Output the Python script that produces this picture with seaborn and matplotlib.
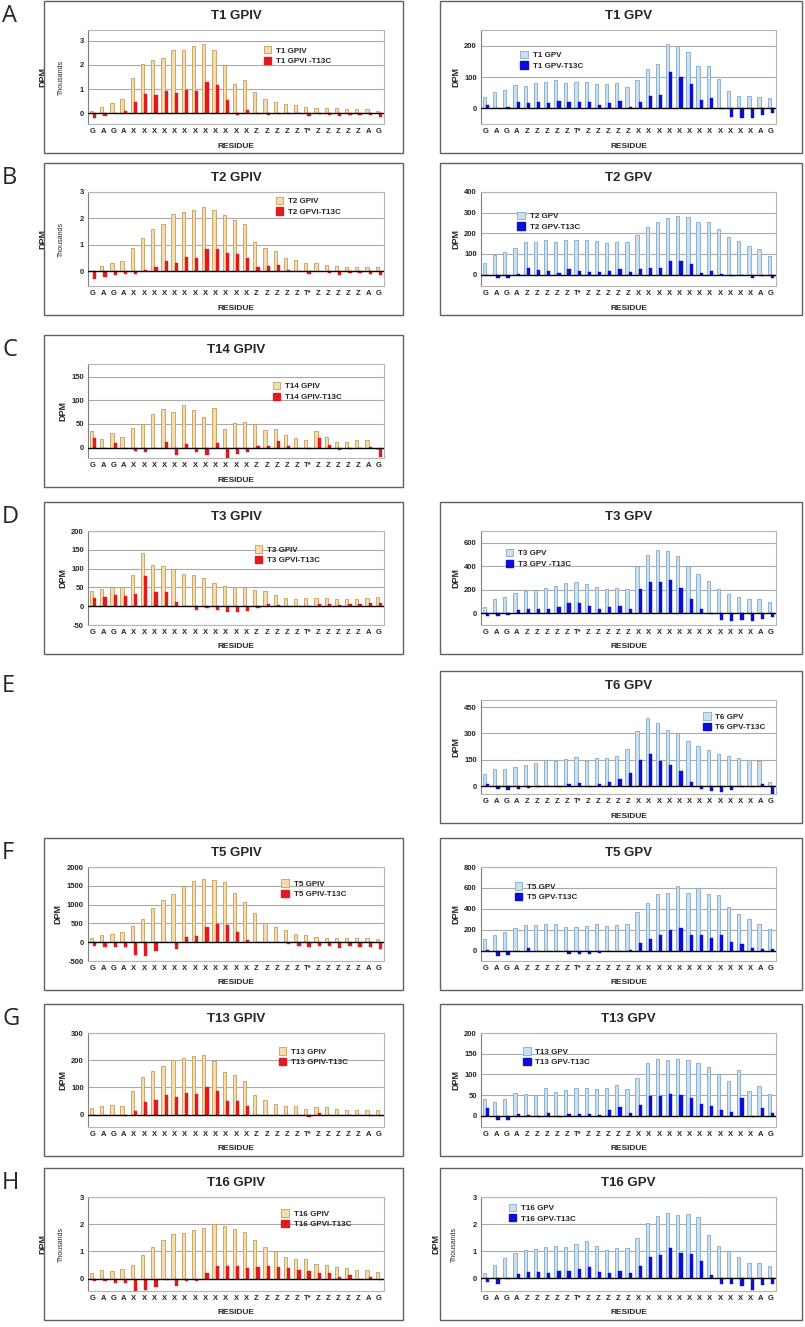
import matplotlib
matplotlib.use('Agg')
import matplotlib.pyplot as plt
from matplotlib.patches import Patch, Rectangle
import pandas as pd
import seaborn as sns

# Residuos del eje x (29 posiciones)
gpiv_residues = ['G', 'A', 'G', 'A'] + ['X'] * 12 + ['Z'] * 5 + ['T*'] + ['Z'] * 5 + ['A', 'G']
gpv_residues = ['G', 'A', 'G', 'A'] + ['Z'] * 5 + ['T*'] + ['Z'] * 5 + ['X'] * 12 + ['A', 'G']

# A - T1 (GPIV en miles)
t1_gpiv = [0.1, 0.27, 0.43, 0.58, 1.45, 2.03, 2.2, 2.28, 2.62, 2.62, 2.77, 2.87, 2.6, 1.99, 1.2,
           1.37, 0.88, 0.58, 0.47, 0.38, 0.35, 0.27, 0.22, 0.22, 0.22, 0.18, 0.17, 0.17, 0.1]
t1_gpiv_t13c = [-0.2, -0.12, 0.0, 0.08, 0.48, 0.8, 0.77, 0.9, 0.82, 0.96, 0.93, 1.28, 1.15, 0.55, -0.07,
                0.12, -0.05, -0.07, -0.05, -0.03, 0.0, -0.1, -0.05, -0.07, -0.1, -0.07, -0.07, -0.07, -0.15]
t1_gpv = [35, 52, 58, 73, 72, 80, 84, 90, 82, 85, 85, 78, 78, 80, 68, 92, 127, 140, 204, 200,
          180, 135, 135, 95, 55, 40, 40, 35, 32]
t1_gpv_t13c = [10, 1, 5, 20, 18, 20, 18, 24, 20, 20, 20, 12, 18, 22, 5, 20, 40, 42, 115, 100,
               78, 25, 32, -2, -28, -32, -30, -22, -15]

# B - T2
t2_gpiv = [0.03, 0.2, 0.3, 0.38, 0.87, 1.27, 1.6, 1.8, 2.17, 2.23, 2.32, 2.42, 2.32, 2.13, 1.95,
           1.78, 1.12, 0.9, 0.78, 0.52, 0.42, 0.32, 0.3, 0.25, 0.2, 0.17, 0.17, 0.15, 0.15]
t2_gpiv_t13c = [-0.27, -0.2, -0.13, -0.1, -0.1, 0.07, 0.15, 0.4, 0.33, 0.55, 0.5, 0.83, 0.83, 0.7, 0.65,
                0.52, 0.15, 0.2, 0.25, 0.07, 0.0, -0.08, 0.0, -0.05, -0.12, -0.05, -0.07, -0.1, -0.15]
t2_gpv = [55, 95, 108, 128, 157, 160, 168, 160, 168, 168, 166, 165, 153, 157, 157, 190, 230, 253,
          272, 285, 280, 257, 253, 220, 182, 162, 140, 123, 90]
t2_gpv_t13c = [0, -15, -15, 5, 32, 23, 20, 10, 25, 20, 13, 13, 17, 25, 13, 25, 32, 32, 65, 65,
               52, 8, 20, 5, -5, 0, -15, -5, -18]

# C - T14
t14_gpiv = [35, 18, 31, 22, 41, 51, 71, 81, 76, 91, 80, 65, 83, 39, 52, 54, 51, 37, 39, 26, 20,
            17, 35, 22, 12, 11, 16, 16, -2]
t14_gpiv_t13c = [20, -1, 10, -2, -7, -10, 0, 12, -15, 8, -10, -15, 9, -25, -13, -10, 4, 3, 13, 4,
                 0, -2, 20, 6, -5, -3, 0, 2, -20]

# D - T3
t3_gpiv = [40, 45, 52, 52, 82, 142, 110, 106, 99, 85, 82, 75, 62, 55, 50, 50, 43, 40, 30, 22,
           20, 21, 22, 22, 20, 18, 20, 22, 25]
t3_gpiv_t13c = [22, 24, 30, 27, 33, 80, 38, 37, 10, 0, -9, -5, -11, -16, -15, -13, -5, 5, 3, 0,
                0, 0, 7, 7, 4, 5, 7, 9, 9]
t3_gpv = [50, 120, 138, 173, 188, 200, 212, 232, 258, 268, 250, 220, 210, 215, 210, 405, 500, 540,
          530, 485, 400, 330, 275, 205, 165, 140, 122, 120, 95]
t3_gpv_t13c = [-20, -20, -12, 28, 32, 38, 32, 55, 85, 85, 65, 38, 50, 60, 38, 210, 265, 270, 285,
               218, 122, 35, -5, -55, -70, -60, -70, -45, -30]

# E - T6
t6_gpv = [70, 95, 100, 108, 118, 130, 150, 140, 155, 163, 145, 162, 158, 170, 210, 312, 385, 360,
          322, 305, 255, 230, 205, 180, 170, 158, 150, 145, 22]
t6_gpv_t13c = [10, -18, -20, -15, -12, -3, 2, -5, 10, 18, -5, 10, 25, 40, 72, 150, 185, 140, 120,
               85, 25, -18, -30, -35, -20, -3, -3, 10, -45]

# F - T5
t5_gpiv = [120, 180, 210, 280, 440, 620, 910, 1110, 1270, 1490, 1620, 1670, 1650, 1610, 1310, 1060,
           780, 510, 400, 320, 210, 190, 150, 120, 120, 100, 100, 100, 80]
t5_gpiv_t13c = [-110, -130, -130, -130, -340, -360, -240, 0, -170, 150, 160, 400, 490, 470, 280, 70,
                10, 0, 0, -40, -100, -130, -90, -110, -150, -100, -120, -130, -170]
t5_gpv = [110, 150, 180, 215, 248, 243, 258, 258, 222, 228, 235, 250, 235, 240, 258, 370, 460, 545,
          555, 615, 555, 595, 545, 535, 420, 350, 305, 250, 205]
t5_gpv_t13c = [10, -55, -40, -5, 20, -3, -5, -5, -35, -35, -35, -20, -5, 0, 10, 75, 110, 150, 195,
               215, 150, 145, 125, 145, 80, 60, 25, 15, 15]

# G - T13
t13_gpiv = [25, 33, 35, 33, 85, 138, 160, 178, 200, 207, 215, 220, 197, 158, 147, 125, 70, 55, 40,
            30, 30, 22, 27, 27, 22, 17, 18, 15, 17]
t13_gpiv_t13c = [0, 0, 0, -5, 12, 45, 53, 73, 65, 80, 77, 102, 87, 50, 48, 30, -3, 0, 0, -3, 0, -8,
                 5, 0, -3, -3, -3, -5, -5]
t13_gpv = [40, 33, 40, 55, 53, 50, 67, 58, 62, 67, 67, 65, 68, 75, 65, 92, 128, 137, 135, 138, 135,
           128, 118, 102, 85, 110, 60, 73, 52]
t13_gpv_t13c = [18, -10, -10, 5, 3, -2, 7, -2, 5, 5, 5, 3, 13, 22, 8, 27, 48, 48, 52, 50, 43, 28,
                24, 14, 10, 44, -3, 20, 8]

# H - T16 (miles)
t16_gpiv = [0.22, 0.32, 0.28, 0.35, 0.5, 0.85, 1.15, 1.4, 1.62, 1.67, 1.78, 1.85, 2.0, 1.92, 1.83,
            1.7, 1.43, 1.15, 1.0, 0.8, 0.72, 0.7, 0.55, 0.5, 0.42, 0.38, 0.32, 0.32, 0.25]
t16_gpiv_t13c = [-0.08, -0.08, -0.15, -0.15, -0.47, -0.43, -0.33, -0.05, -0.27, -0.08, -0.1, 0.22,
                 0.45, 0.45, 0.47, 0.38, 0.43, 0.45, 0.43, 0.37, 0.3, 0.27, 0.22, 0.2, 0.07, 0.12,
                 0.0, 0.07, -0.05]
t16_gpv = [0.2, 0.5, 0.75, 0.95, 1.05, 1.07, 1.15, 1.2, 1.17, 1.28, 1.37, 1.18, 1.05, 1.1, 1.1, 1.5,
           2.05, 2.3, 2.4, 2.35, 2.37, 2.25, 1.6, 1.18, 1.0, 0.77, 0.55, 0.58, 0.47]
t16_gpv_t13c = [-0.15, -0.2, -0.03, 0.17, 0.23, 0.22, 0.2, 0.27, 0.27, 0.33, 0.4, 0.23, 0.2, 0.27,
                0.2, 0.45, 0.78, 0.87, 1.1, 0.92, 0.9, 0.65, 0.12, -0.2, -0.22, -0.27, -0.45,
                -0.25, -0.22]

# Colores
TAN, TAN_EDGE = '#f8dca8', '#c09c62'
RED = '#e01a1e'
LBLUE, LBLUE_EDGE = '#c6e1f3', '#86a8c5'
BLUE = '#0c0ed6'

W, H = 805, 1327
LEFT_BOX, RIGHT_BOX = (44, 403), (440, 802)
LEFT_PLOT, RIGHT_PLOT = (88, 384), (481, 776)
ROW_TOP = {'A': 1, 'B': 163, 'C': 335, 'D': 502, 'E': 671, 'F': 838, 'G': 1004, 'H': 1168}
BOX_H = 152

sns.set_theme(style='white')
plt.rcParams['font.family'] = ['Liberation Sans', 'DejaVu Sans']

fig = plt.figure(figsize=(W / 100, H / 100), dpi=100)


def fx(x):
    return x / W


def fy(y):
    return 1 - y / H


def draw_panel(side, row, title, light, dark, names, ylim, yticks, thousands, leg_xy):
    top = ROW_TOP[row]
    bx0, bx1 = LEFT_BOX if side == 'L' else RIGHT_BOX
    px0, px1 = LEFT_PLOT if side == 'L' else RIGHT_PLOT
    residues = gpiv_residues if side == 'L' else gpv_residues
    c_light, e_light, c_dark = (TAN, TAN_EDGE, RED) if side == 'L' else (LBLUE, LBLUE_EDGE, BLUE)

    # Marco del panel
    fig.patches.append(Rectangle((fx(bx0), fy(top + BOX_H)), fx(bx1) - fx(bx0), fy(top) - fy(top + BOX_H),
                                 transform=fig.transFigure, fill=False, edgecolor='#606060', lw=1.0))
    fig.text(fx((px0 + px1) / 2), fy(top + 15), title, ha='center', va='center',
             fontsize=9.5, fontweight='bold')
    fig.text(fx((px0 + px1) / 2), fy(top + 145), 'RESIDUE', ha='center', va='center',
             fontsize=6, fontweight='bold')

    ax = fig.add_axes([fx(px0), fy(top + 123), fx(px1) - fx(px0), fy(top + 29) - fy(top + 123)])

    n = len(light)
    df = pd.DataFrame({'pos': list(range(n)) * 2,
                       'dpm': list(light) + list(dark),
                       'serie': [names[0]] * n + [names[1]] * n})
    sns.barplot(data=df, x='pos', y='dpm', hue='serie', palette=[c_light, c_dark],
                width=0.64, gap=0, ax=ax, legend=False, saturation=1, zorder=3)
    for p in ax.containers[0]:
        p.set_edgecolor(e_light)
        p.set_linewidth(0.6)
    for p in ax.containers[1]:
        p.set_edgecolor(c_dark)
        p.set_linewidth(0.3)

    ax.set_xlim(-0.5, n - 0.5)
    ax.set_ylim(*ylim)
    ax.set_yticks(yticks)
    ax.set_yticklabels([str(t) for t in yticks], fontsize=5.5, fontweight='bold')
    ax.set_xticks(range(n))
    ax.set_xticklabels(residues, fontsize=5.5, fontweight='bold')
    ax.tick_params(length=0, pad=3)
    ax.set_xlabel('')

    for t in yticks:
        if t != 0:
            ax.axhline(t, color='#a9a9a9', lw=0.8, zorder=1)
    ax.axhline(0, color='black', lw=1.0, zorder=4)
    for s in ax.spines.values():
        s.set_color('#b5b5b5')
        s.set_linewidth(0.8)
    ax.spines['left'].set_color('#808080')

    ax.set_ylabel('DPM', fontsize=6.5, fontweight='bold', labelpad=3)
    if thousands:
        # DPM y "Thousands" en dos columnas, como en Excel
        ax.yaxis.set_label_coords(-41 / (px1 - px0), 0.5)
        ax.text(-27 / (px1 - px0), 0.5, 'Thousands', transform=ax.transAxes, rotation=90,
                ha='center', va='center', fontsize=5)

    handles = [Patch(facecolor=c_light, edgecolor=e_light, lw=0.6),
               Patch(facecolor=c_dark, edgecolor=c_dark)]
    leg = ax.legend(handles, names, loc='upper left', bbox_to_anchor=leg_xy, frameon=False,
                    fontsize=5.8, handlelength=0.9, handleheight=1.0, labelspacing=0.25,
                    borderpad=0, handletextpad=0.6)
    for t in leg.get_texts():
        t.set_fontweight('bold')
    return ax


# Paneles (lado, fila, titulo, series, leyenda, rango y, ticks, miles, posicion leyenda)
draw_panel('L', 'A', 'T1 GPIV', t1_gpiv, t1_gpiv_t13c, ['T1 GPIV', 'T1 GPVI -T13C'],
           (-0.45, 3.45), [0, 1, 2, 3], True, (0.58, 0.87))
draw_panel('R', 'A', 'T1 GPV', t1_gpv, t1_gpv_t13c, ['T1 GPV', 'T1 GPV-T13C'],
           (-50, 250), [0, 100, 200], False, (0.12, 0.82))
draw_panel('L', 'B', 'T2 GPIV', t2_gpiv, t2_gpiv_t13c, ['T2 GPIV', 'T2 GPVI-T13C'],
           (-0.55, 3.0), [0, 1, 2, 3], True, (0.62, 0.99))
draw_panel('R', 'B', 'T2 GPV', t2_gpv, t2_gpv_t13c, ['T2 GPV', 'T2 GPV-T13C'],
           (-55, 400), [0, 100, 200, 300, 400], False, (0.11, 0.83))
draw_panel('L', 'C', 'T14 GPIV', t14_gpiv, t14_gpiv_t13c, ['T14 GPIV', 'T14 GPIV-T13C'],
           (-22, 177), [0, 50, 100, 150], False, (0.61, 0.85))
draw_panel('L', 'D', 'T3 GPIV', t3_gpiv, t3_gpiv_t13c, ['T3 GPIV', 'T3 GPVI-T13C'],
           (-50, 200), [-50, 0, 50, 100, 150, 200], False, (0.55, 0.89))
draw_panel('R', 'D', 'T3 GPV', t3_gpv, t3_gpv_t13c, ['T3 GPV', 'T3 GPV -T13C'],
           (-100, 700), [0, 200, 400, 600], False, (0.07, 0.85))
draw_panel('R', 'E', 'T6 GPV', t6_gpv, t6_gpv_t13c, ['T6 GPV', 'T6 GPV-T13C'],
           (-45, 490), [0, 150, 300, 450], False, (0.74, 0.91))
draw_panel('L', 'F', 'T5 GPIV', t5_gpiv, t5_gpiv_t13c, ['T5 GPIV', 'T5 GPIV-T13C'],
           (-500, 2000), [-500, 0, 500, 1000, 1500, 2000], False, (0.64, 0.91))
draw_panel('R', 'F', 'T5 GPV', t5_gpv, t5_gpv_t13c, ['T5 GPV', 'T5 GPV-T13C'],
           (-100, 800), [0, 200, 400, 600, 800], False, (0.1, 0.88))
draw_panel('L', 'G', 'T13 GPIV', t13_gpiv, t13_gpiv_t13c, ['T13 GPIV', 'T13 GPIV-T13C'],
           (-46, 300), [0, 100, 200, 300], False, (0.63, 0.89))
draw_panel('R', 'G', 'T13 GPV', t13_gpv, t13_gpv_t13c, ['T13 GPV', 'T13 GPV-T13C'],
           (-27, 200), [0, 50, 100, 150, 200], False, (0.13, 0.89))
draw_panel('L', 'H', 'T16 GPIV', t16_gpiv, t16_gpiv_t13c, ['T16 GPIV', 'T16 GPVI-T13C'],
           (-0.46, 3.0), [0, 1, 2, 3], True, (0.64, 0.91))
draw_panel('R', 'H', 'T16 GPV', t16_gpv, t16_gpv_t13c, ['T16 GPV', 'T16 GPV-T13C'],
           (-0.47, 3.0), [0, 1, 2, 3], True, (0.08, 0.97))

# Letras de los paneles
for letter, top in ROW_TOP.items():
    fig.text(fx(2), fy(top + 15), letter, ha='left', va='center', fontsize=17,
             family=['Open Sans', 'DejaVu Sans'])

fig.savefig('out.png', dpi=100, facecolor='white')
